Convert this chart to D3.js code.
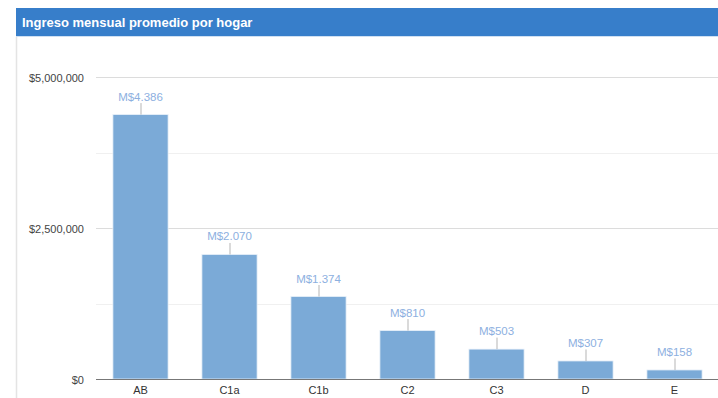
<!DOCTYPE html>
<html>
<head>
<meta charset="utf-8">
<script src="https://cdn.jsdelivr.net/npm/d3@7"></script>
<style>
  html, body { margin: 0; padding: 0; background: #fff; }
  svg { display: block; font-family: Arial, "Liberation Sans", sans-serif; }
</style>
</head>
<body>
<svg id="chart" width="718" height="398"></svg>
<script>
// Average monthly household income by socioeconomic group
const categories = ["AB", "C1a", "C1b", "C2", "C3", "D", "E"];
const incomes = [4386000, 2070000, 1374000, 810000, 503000, 307000, 158000];
const valueLabels = ["M$4.386", "M$2.070", "M$1.374", "M$810", "M$503", "M$307", "M$158"];
const yTicks = [0, 2500000, 5000000];
const yMinorTicks = [1250000, 3750000];
const title = "Ingreso mensual promedio por hogar";

const svg = d3.select("#chart");
const W = 718, H = 398;

// Panel header
svg.append("rect").attr("x", 16).attr("y", 8).attr("width", W - 16).attr("height", 28)
  .attr("fill", "#377ECA");
svg.append("line").attr("x1", 16).attr("x2", W).attr("y1", 36.5).attr("y2", 36.5)
  .attr("stroke", "#cfe0f2");
svg.append("text").attr("x", 22).attr("y", 26.5)
  .attr("fill", "#fff").attr("font-size", 13).attr("font-weight", "bold")
  .text(title);

// Panel left border
svg.append("line").attr("x1", 16.5).attr("x2", 16.5).attr("y1", 37).attr("y2", H)
  .attr("stroke", "#e4e4e4").attr("stroke-width", 1.5);

const plot = { left: 96, right: 719, top: 77, bottom: 379 };

const x = d3.scaleBand().domain(categories)
  .range([plot.left, plot.right]).paddingInner(0.38).paddingOuter(0.19);
const y = d3.scaleLinear().domain([0, 5000000]).range([plot.bottom, plot.top]);

// Gridlines
svg.append("g").selectAll("line").data(yMinorTicks).join("line")
  .attr("x1", plot.left).attr("x2", W)
  .attr("y1", d => Math.round(y(d)) + 0.5).attr("y2", d => Math.round(y(d)) + 0.5)
  .attr("stroke", "#f0f0f0");
svg.append("g").selectAll("line").data(yTicks.filter(d => d > 0)).join("line")
  .attr("x1", plot.left).attr("x2", W)
  .attr("y1", d => Math.round(y(d)) + 0.5).attr("y2", d => Math.round(y(d)) + 0.5)
  .attr("stroke", "#dcdcdc");

// Y axis labels
const fmt = d => "$" + d3.format(",")(d);
const yAxis = d3.axisLeft(y).tickValues(yTicks).tickFormat(fmt).tickSize(0).tickPadding(0);
svg.append("g").attr("transform", `translate(84,0.5)`).call(yAxis)
  .call(g => g.select(".domain").remove())
  .selectAll("text").attr("fill", "#444").attr("font-size", 11)
  .attr("font-family", "Arial, 'Liberation Sans', sans-serif");

// Bars
svg.append("g").selectAll("rect").data(categories).join("rect")
  .attr("x", d => x(d)).attr("width", x.bandwidth())
  .attr("y", (d, i) => y(incomes[i]) + 0.5)
  .attr("height", (d, i) => y(0) - y(incomes[i]) - 0.5)
  .attr("fill", "#7BAAD7").attr("stroke", "#e8f0f9").attr("stroke-width", 0.8);

// Baseline
svg.append("line").attr("x1", plot.left).attr("x2", W)
  .attr("y1", y(0) + 0.5).attr("y2", y(0) + 0.5)
  .attr("stroke", "#777").attr("stroke-width", 1.2);

// X axis labels
const xAxis = d3.axisBottom(x).tickSize(0).tickPadding(7);
svg.append("g").attr("transform", `translate(0,${y(0)})`).call(xAxis)
  .call(g => g.select(".domain").remove())
  .selectAll("text").attr("fill", "#333").attr("font-size", 11)
  .attr("font-family", "Arial, 'Liberation Sans', sans-serif");

// Value annotations with stems
const ann = svg.append("g").selectAll("g").data(categories).join("g")
  .attr("transform", (d, i) => `translate(${x(d) + x.bandwidth() / 2},${y(incomes[i])})`);
ann.append("line").attr("x1", 0.5).attr("x2", 0.5).attr("y1", 0.5).attr("y2", -11)
  .attr("stroke", "#b5b5b5").attr("stroke-width", 1);
ann.append("text").attr("y", -13.5).attr("text-anchor", "middle")
  .attr("fill", "#8DB0DF").attr("font-size", 11.5)
  .text((d, i) => valueLabels[i]);
</script>
</body>
</html>
